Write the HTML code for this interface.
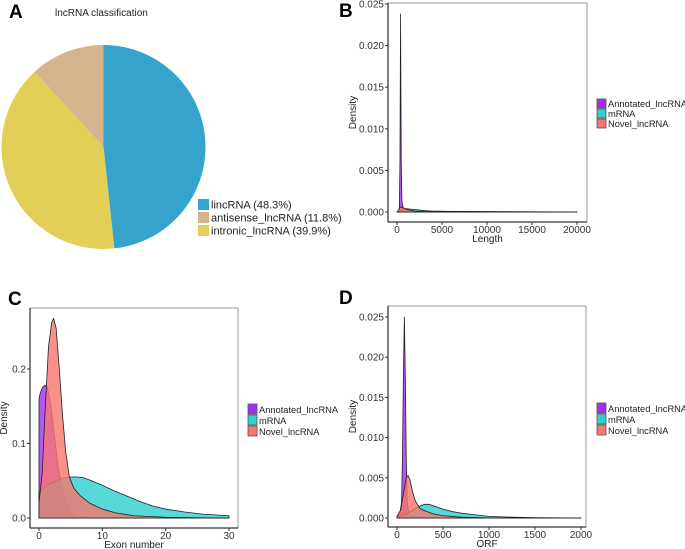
<!DOCTYPE html>
<html><head><meta charset="utf-8"><style>
body{margin:0;background:#fff;width:685px;height:549px;overflow:hidden;font-family:"Liberation Sans",sans-serif}
svg{display:block}
</style></head><body>
<svg id="fig" width="685" height="549" viewBox="0 0 685 549" xmlns="http://www.w3.org/2000/svg" font-family="Liberation Sans, sans-serif">
  <g>
    <text x="9" y="18" font-size="19" font-weight="bold">A</text>
    <text x="55" y="16" font-size="10" fill="#222">lncRNA classification</text>
    <g id="pie"></g>
    <g id="pieLegend"></g>
  </g>
  <g id="panelB"></g>
  <g id="panelC"></g>
  <g id="panelD"></g>
</svg>
<script>
const NS="http://www.w3.org/2000/svg";
// Pie data
const pieLabels=["lincRNA","intronic_lncRNA","antisense_lncRNA"];
const pieValues=[48.3,39.9,11.8];
const pieColors=["#35A3CB","#E3CF57","#D3B48C"];
const legendOrder=[0,2,1];

// Panel B data (Length)
const bAnnX=[0,250,330,380,400,420,470,550,700,1200,2000,20000];
const bAnnY=[0,0,0.006,0.02,0.0238,0.018,0.006,0.0012,0.0005,0.0002,0.0001,0];
const bMrnaX=[0,300,700,1000,1500,2000,3000,4000,6000,8000,12000,20000];
const bMrnaY=[0,0.0001,0.0003,0.0004,0.00035,0.0003,0.00018,0.0001,0.00005,0.00003,0.00001,0];
const bNovX=[0,150,250,400,550,700,1000,1500,2000,3000,5000,20000];
const bNovY=[0,0.0002,0.0004,0.0006,0.00058,0.0005,0.00035,0.0002,0.00012,0.00005,0.00001,0];

// Panel C data (Exon number)
const cAnnX=[0,0.2,0.6,1,1.3,1.8,2.3,3,3.6,4.2,5,6,8,30];
const cAnnY=[0.16,0.168,0.176,0.178,0.175,0.155,0.12,0.07,0.04,0.02,0.007,0.002,0,0];
const cMrnaX=[0,1,2,3,4,5,6,7,8,10,12,14,16,18,20,23,26,30];
const cMrnaY=[0.035,0.042,0.047,0.051,0.054,0.055,0.055,0.054,0.051,0.044,0.036,0.029,0.022,0.016,0.012,0.008,0.005,0.003];
const cNovX=[0,0.5,1,1.5,2,2.3,2.7,3.2,3.7,4.2,4.8,5.5,6.5,8,10,12,15,20,25,30];
const cNovY=[0.02,0.06,0.15,0.23,0.262,0.268,0.255,0.2,0.14,0.09,0.055,0.04,0.03,0.02,0.012,0.007,0.003,0.001,0.0003,0];

// Panel D data (ORF)
const dAnnX=[0,30,50,60,70,80,90,100,110,130,170,300,2000];
const dAnnY=[0.0002,0.0005,0.002,0.008,0.018,0.025,0.018,0.008,0.002,0.0006,0.0002,0,0];
const dMrnaX=[0,100,200,250,300,350,400,500,600,700,850,1000,1250,1500,2000];
const dMrnaY=[0.0001,0.0005,0.0012,0.0015,0.0017,0.0017,0.0015,0.0011,0.0008,0.0006,0.0004,0.0002,0.0001,0.00005,0];
const dNovX=[0,40,70,100,120,140,170,200,250,300,400,500,700,1000,2000];
const dNovY=[0.0002,0.001,0.003,0.005,0.0053,0.0048,0.0032,0.0021,0.0012,0.0009,0.0005,0.0003,0.0001,0.00002,0];

const seriesNames=["Annotated_lncRNA","mRNA","Novel_lncRNA"];
const seriesColors=["#A52CF5","#2ECFCF","#F8766D"];

function el(tag,attrs,parent,text){const e=document.createElementNS(NS,tag);for(const k in attrs)e.setAttribute(k,attrs[k]);if(text!==undefined)e.textContent=text;parent.appendChild(e);return e;}

// Pie
(function(){
  const g=document.getElementById('pie');const cx=103.5,cy=147,r=102;
  const total=pieValues.reduce((a,b)=>a+b,0);let a0=0;
  pieValues.forEach((v,i)=>{
    const a1=a0+v/total*2*Math.PI;
    const x0=cx+r*Math.sin(a0),y0=cy-r*Math.cos(a0),x1=cx+r*Math.sin(a1),y1=cy-r*Math.cos(a1);
    const large=(a1-a0)>Math.PI?1:0;
    const p=el('path',{d:`M${cx},${cy}L${x0},${y0}A${r},${r} 0 ${large} 1 ${x1},${y1}Z`,fill:pieColors[i]},g);
    
    
    a0=a1;
  });
  const lg=document.getElementById('pieLegend');
  legendOrder.forEach((idx,k)=>{
    const y=199+k*13;
    const r2=el('rect',{x:198,y:y,width:11,height:11,fill:pieColors[idx]},lg);
    
    
    const t=el('text',{x:211,y:y+9.5,'font-size':11,fill:'#222'},lg,pieLabels[idx]+' ('+pieValues[idx].toFixed(1)+'%)');
    
    
  });
})();

function densityPanel(gid,cfg){
  const g=document.getElementById(gid);
  const sx=v=>cfg.x0px+(v-cfg.xmin)/(cfg.xmax-cfg.xmin)*(cfg.x1px-cfg.x0px);
  const sy=v=>cfg.y0px-(v-cfg.ymin)/(cfg.ymax-cfg.ymin)*(cfg.y0px-cfg.y1px);
  const lab=el('text',{x:cfg.labelX,y:cfg.labelY,'font-size':19,'font-weight':'bold'},g,cfg.label);
  
  
  const box=el('rect',{x:cfg.box[0],y:cfg.box[1],width:cfg.box[2]-cfg.box[0],height:cfg.box[3]-cfg.box[1],fill:'#fff',stroke:'#9a9a9a','stroke-width':1},g);
  
  
  cfg.series.forEach((s,i)=>{
    let d=`M${sx(s.x[0])},${sy(0)}`;
    s.x.forEach((xv,j)=>{d+=`L${sx(xv).toFixed(2)},${sy(s.y[j]).toFixed(2)}`;});
    d+=`L${sx(s.x[s.x.length-1])},${sy(0)}Z`;
    const p=el('path',{d:d,fill:seriesColors[i],'fill-opacity':0.8,stroke:'#222','stroke-width':0.8,'stroke-linejoin':'round'},g);
    
    
  });
  const ax=el('line',{x1:cfg.box[0],y1:cfg.box[1],x2:cfg.box[0],y2:cfg.box[3],stroke:'#000','stroke-width':1},g);
  
  
  const ax2=el('line',{x1:cfg.box[0],y1:cfg.box[3],x2:cfg.box[2],y2:cfg.box[3],stroke:'#000','stroke-width':1},g);
  
  
  cfg.yticks.forEach((v,k)=>{
    const y=sy(v);
    el('line',{x1:cfg.box[0]-3,y1:y,x2:cfg.box[0],y2:y,stroke:'#333'},g);
    const t=el('text',{x:cfg.box[0]-4,y:y+3.5,'font-size':10,'text-anchor':'end',fill:'#333'},g,cfg.ytickLabels[k]);
    
    
  });
  cfg.xticks.forEach((v,k)=>{
    const x=sx(v);
    el('line',{x1:x,y1:cfg.box[3],x2:x,y2:cfg.box[3]+3,stroke:'#333'},g);
    const t=el('text',{x:x,y:cfg.box[3]+11,'font-size':10,'text-anchor':'middle',fill:'#333'},g,cfg.xtickLabels[k]);
    
    
  });
  const xt=el('text',{x:(cfg.box[0]+cfg.box[2])/2,y:cfg.box[3]+20,'font-size':10,'text-anchor':'middle',fill:'#222'},g,cfg.xtitle);
  
  
  const yc=(cfg.box[1]+cfg.box[3])/2, yx=cfg.ytitleX;
  const yt=el('text',{x:yx,y:yc,'font-size':10,'text-anchor':'middle',fill:'#222',transform:`rotate(-90 ${yx} ${yc})`},g,'Density');
  
  
  seriesNames.forEach((n,i)=>{
    const y=cfg.legY+i*cfg.legStep;
    const r=el('rect',{x:cfg.legX,y:y,width:9,height:cfg.legStep-1,fill:seriesColors[i],stroke:'#555','stroke-width':0.8},g);
    
    
    const t=el('text',{x:cfg.legX+11,y:y+cfg.legStep-2,'font-size':9.3,fill:'#222'},g,n);
    
    
  });
}

densityPanel('panelB',{label:'B',labelX:339,labelY:17,box:[388,3,587,222],xmin:0,xmax:20000,x0px:397,x1px:577,ymin:0,ymax:0.025,y0px:212,y1px:4,
  yticks:[0,0.005,0.01,0.015,0.02,0.025],ytickLabels:['0.000','0.005','0.010','0.015','0.020','0.025'],
  xticks:[0,5000,10000,15000,20000],xtickLabels:['0','5000','10000','15000','20000'],xtitle:'Length',ytitleX:356,
  legX:597,legY:99,legStep:10,
  series:[{x:bAnnX,y:bAnnY},{x:bMrnaX,y:bMrnaY},{x:bNovX,y:bNovY}]});
densityPanel('panelC',{label:'C',labelX:8,labelY:305,box:[30,308,238,528],xmin:0,xmax:30,x0px:39,x1px:229,ymin:0,ymax:0.2,y0px:518,y1px:369,
  yticks:[0,0.1,0.2],ytickLabels:['0.0','0.1','0.2'],
  xticks:[0,10,20,30],xtickLabels:['0','10','20','30'],xtitle:'Exon number',ytitleX:7,
  legX:248,legY:404,legStep:11,
  series:[{x:cAnnX,y:cAnnY},{x:cMrnaX,y:cMrnaY},{x:cNovX,y:cNovY}]});
densityPanel('panelD',{label:'D',labelX:339,labelY:304,box:[388,306,586,527],xmin:0,xmax:2000,x0px:397,x1px:581,ymin:0,ymax:0.025,y0px:518,y1px:317,
  yticks:[0,0.005,0.01,0.015,0.02,0.025],ytickLabels:['0.000','0.005','0.010','0.015','0.020','0.025'],
  xticks:[0,500,1000,1500,2000],xtickLabels:['0','500','1000','1500','2000'],xtitle:'ORF',ytitleX:356,
  legX:597,legY:403,legStep:11,
  series:[{x:dAnnX,y:dAnnY},{x:dMrnaX,y:dMrnaY},{x:dNovX,y:dNovY}]});
</script>
</body></html>
